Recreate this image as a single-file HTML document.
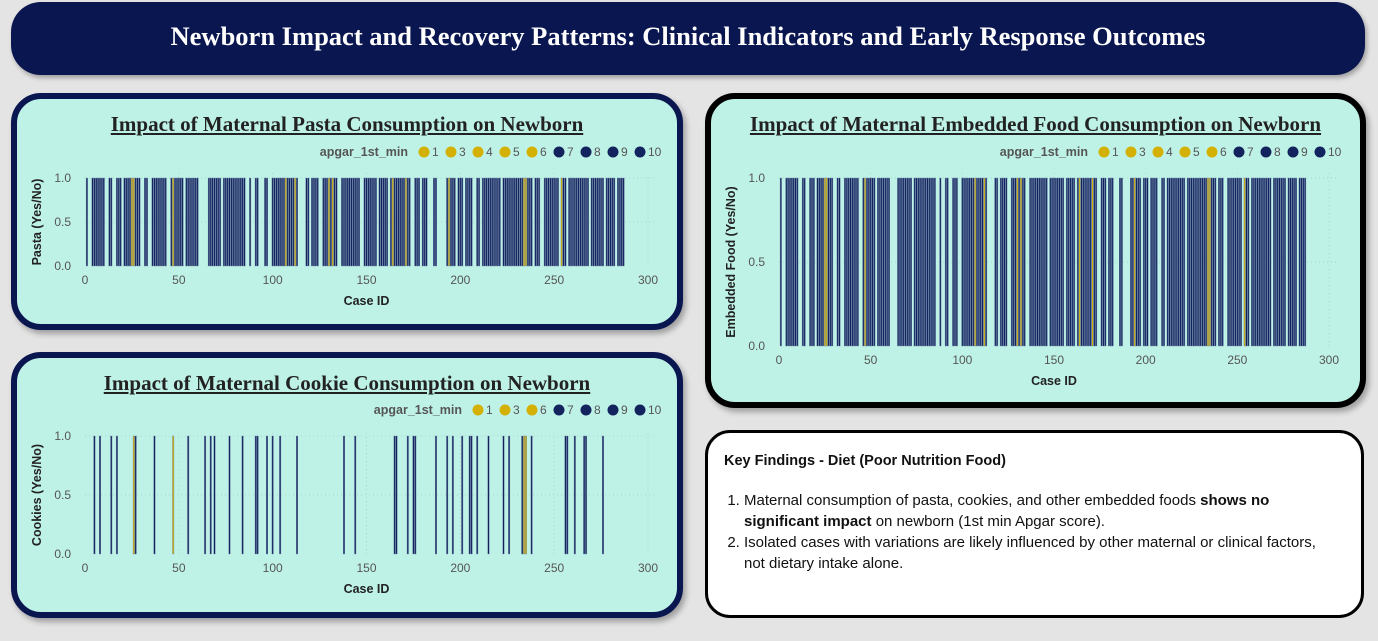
<!DOCTYPE html>
<html><head><meta charset="utf-8">
<style>
body{margin:0;width:1378px;height:641px;background:#e4e4e4;font-family:"Liberation Sans",sans-serif;overflow:hidden;position:relative}
.hdr{position:absolute;left:11px;top:2px;width:1354px;height:73px;background:#0a1650;border-radius:30px;box-shadow:2px 3px 5px rgba(0,0,0,.3);color:#fff;font-family:"Liberation Serif",serif;font-weight:bold;font-size:26.5px;text-align:center;line-height:68px}
.card{position:absolute;background:#bff2e6;border:6px solid #0a1650;border-radius:30px;box-shadow:3px 4px 6px rgba(0,0,0,.3);box-sizing:border-box}
.ttl{position:absolute;left:0;right:0;text-align:center;font-family:"Liberation Serif",serif;font-weight:bold;font-size:21px;color:#222;text-decoration:underline}
svg{position:absolute;left:0;top:0}
.find{position:absolute;left:705px;top:430px;width:659px;height:188px;background:#fff;border:3px solid #000;border-radius:25px;box-sizing:border-box;font-size:15px;color:#111}
.find ol{margin:0;padding-left:36px;position:absolute;top:57px;left:0;right:22px;line-height:21px}
</style></head><body>
<div class="hdr">Newborn Impact and Recovery Patterns: Clinical Indicators and Early Response Outcomes</div>
<div class="card" style="left:11px;top:93px;width:672px;height:237px"><div class="ttl" style="top:13px">Impact of Maternal Pasta Consumption on Newborn</div></div>
<div class="card" style="left:11px;top:352px;width:672px;height:266px"><div class="ttl" style="top:13px">Impact of Maternal Cookie Consumption on Newborn</div></div>
<div class="card" style="left:705px;top:93px;width:661px;height:315px;border-color:#000"><div class="ttl" style="top:13px">Impact of Maternal Embedded Food Consumption on Newborn</div></div>
<div class="find">
<div style="position:absolute;left:16px;top:20px;font-weight:bold;font-size:14.5px">Key Findings - Diet (Poor Nutrition Food)</div>
<ol>
<li>Maternal consumption of pasta, cookies, and other embedded foods <b>shows no significant impact</b> on newborn (1st min Apgar score).</li>
<li>Isolated cases with variations are likely influenced by other maternal or clinical factors, not dietary intake alone.</li>
</ol></div>
<svg id="chart" width="1378" height="641"></svg>
<script>
const maxCase = 287;
const xTicks = [0,50,100,150,200,250,300];
const yTicks = [0.0,0.5,1.0];
const lowApgarCases = [25,47,107,112,130,132,164,171,194,234,235,254,26];
const lowApgarScores = [5,6,4,6,3,6,5,6,1,6,6,5,6];
const pastaNoCases = [2,3,11,12,15,16,20,30,31,34,35,44,45,53,61,62,63,64,65,73,86,87,89,90,93,94,95,98,99,114,115,116,117,120,125,126,135,136,147,148,156,162,174,175,179,183,184,185,188,189,190,191,192,198,202,207,208,211,222,239,243,244,253,257,269,277,283];
const embeddedNoCases = [2,3,11,12,15,16,20,30,31,34,35,44,45,53,61,62,63,64,73,86,87,89,90,93,94,98,99,114,115,116,117,120,125,126,135,136,147,156,162,174,175,179,183,184,185,188,189,190,191,198,202,207,208,211,222,239,243,244,253,257,269,277,283];
const cookieYesCases = [5,8,14,17,26,27,37,47,55,64,67,69,77,84,91,92,97,100,104,113,138,144,165,166,172,175,176,187,193,196,201,205,206,209,215,223,226,233,234,235,238,256,257,261,266,267,276];
const legendPasta = [1,3,4,5,6,7,8,9,10];
const legendCookie = [1,3,6,7,8,9,10];

const svg = document.getElementById('chart');
const NS = 'http://www.w3.org/2000/svg';
function mk(tag, attrs, parent){const e=document.createElementNS(NS,tag);for(const k in attrs)e.setAttribute(k,attrs[k]);(parent||svg).appendChild(e);return e;}
function apgarOf(c){const i=lowApgarCases.indexOf(c);return i<0?8:lowApgarScores[i];}
function colorOf(a){return a<=6?'#d4b000':'#13235e';}

function drawChart(cfg){
  const g = mk('g',{});
  
  
  const x = v => cfg.x0 + (v/300)*(cfg.x1-cfg.x0);
  const y = v => cfg.y0 - v*(cfg.y0-cfg.y1);
  xTicks.forEach(t=>{ if(t>0) mk('line',{x1:x(t),x2:x(t),y1:y(0),y2:y(1)-6,stroke:'#a9d6cc','stroke-dasharray':'1,3'},g); });
  yTicks.forEach(t=>{ if(t>0) mk('line',{x1:cfg.x0,x2:cfg.x1+8,y1:y(t),y2:y(t),stroke:'#a9d6cc','stroke-dasharray':'1,3'},g); });
  const bw = (x(1)-x(0))*0.8;
  for(let c=1;c<=maxCase;c++){
    const v = cfg.value(c);
    if(v<=0) continue;
    const r = mk('rect',{x:x(c)-bw/2,y:y(v),width:bw,height:y(0)-y(v),fill:colorOf(apgarOf(c)),stroke:'#6f86a8','stroke-width':0.4},g);
    
    
  }
  xTicks.forEach(t=>{const e=mk('text',{x:x(t),y:y(0)+18,'text-anchor':'middle','font-size':12,fill:'#555'},g);e.textContent=t;
    
    });
  yTicks.forEach(t=>{const e=mk('text',{x:cfg.x0-14,y:y(t)+4,'text-anchor':'end','font-size':12,fill:'#555'},g);e.textContent=t.toFixed(1);
    
    });
  const xt=mk('text',{x:(cfg.x0+cfg.x1)/2,y:y(0)+39,'text-anchor':'middle','font-size':12.5,'font-weight':'bold',fill:'#222'},g);xt.textContent='Case ID';
  
  
  const yt=mk('text',{x:0,y:0,'text-anchor':'middle','font-size':12.5,'font-weight':'bold',fill:'#222',transform:`translate(${cfg.yx},${(y(0)+y(1))/2}) rotate(-90)`},g);yt.textContent=cfg.ytitle;
  
  
  let lx = cfg.legendRight;
  const items = cfg.legend.slice().reverse();
  items.forEach(a=>{
    const w = String(a).length*7;
    const t=mk('text',{x:lx-w,y:cfg.ly+4,'font-size':12,fill:'#555'},g);t.textContent=a;
    
    
    mk('circle',{cx:lx-w-8,cy:cfg.ly,r:5.5,fill:colorOf(a)},g);
    lx = lx-w-20;
  });
  const lt=mk('text',{x:lx-4,y:cfg.ly+4,'text-anchor':'end','font-size':12.5,'font-weight':'bold',fill:'#555'},g);lt.textContent='apgar_1st_min';
  
  
}
drawChart({name:'pasta-chart',x0:85,x1:648,y0:266,y1:178,yx:41,ytitle:'Pasta (Yes/No)',value:c=>pastaNoCases.includes(c)?0:1,legend:legendPasta,legendRight:662,ly:152});
drawChart({name:'cookie-chart',x0:85,x1:648,y0:554,y1:436,yx:41,ytitle:'Cookies (Yes/No)',value:c=>cookieYesCases.includes(c)?1:0,legend:legendCookie,legendRight:662,ly:410});
drawChart({name:'embedded-chart',x0:779,x1:1329,y0:346,y1:178,yx:735,ytitle:'Embedded Food (Yes/No)',value:c=>embeddedNoCases.includes(c)?0:1,legend:legendPasta,legendRight:1342,ly:152});
</script>
</body></html>
